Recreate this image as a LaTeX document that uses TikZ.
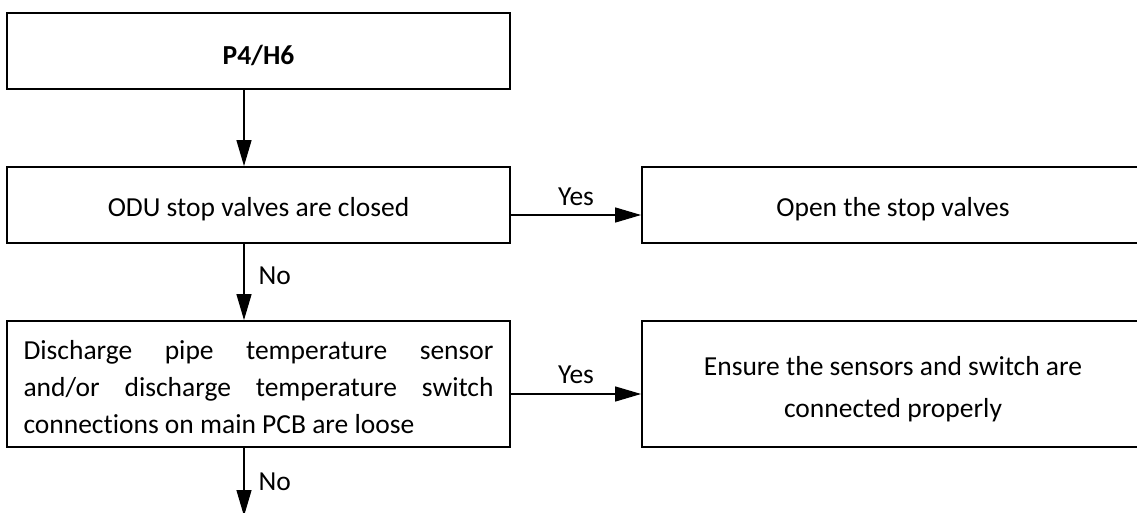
\documentclass[tikz,border=0pt]{standalone}
\usepackage{fontspec}
\setmainfont{Carlito}[Ligatures=NoCommon]
\usetikzlibrary{arrows.meta}
\newcommand{\lowered}[1]{\raisebox{-4pt}[\height][\depth]{#1}}
\begin{document}
\begin{tikzpicture}[x=1pt,y=-1pt,
  box/.style={draw=black,line width=1.8pt,rectangle,inner sep=0pt,minimum width=503pt,font=\fontsize{27.5}{38}\selectfont},
  rbox/.style={box,minimum width=502pt},
  arr/.style={line width=1.3pt,-{Triangle[length=26pt,width=15pt]}},
  lbl/.style={font=\fontsize{27.5}{30}\selectfont,inner sep=0pt}]
\useasboundingbox (0,0) rectangle (1137,513);
\clip (0,0) rectangle (1137,513);
\coordinate (colx) at (244,0);
\node[box,minimum height=76pt] (b1) at (258.5,51) {\lowered{\textbf{P4/H6}}};
\node[box,minimum height=76pt] (b2) at (258.5,205) {\lowered{ODU stop valves are closed}};
\node[box,minimum height=126pt] (b4) at (258.5,384) {\parbox{470pt}{\fontsize{27.5}{37}\selectfont\vspace*{6pt}
  \makebox[470pt][s]{Discharge pipe temperature sensor}\\
  \makebox[470pt][s]{and/or discharge temperature switch}\\
  connections on main PCB are loose}};
\node[rbox,minimum height=126pt] (b5) at (893,384) {\parbox{470pt}{\centering\fontsize{27.5}{42}\selectfont\vspace*{10pt}
  Ensure the sensors and switch are\\ connected properly}};
\node[rbox,minimum height=76pt] (b3) at (893,205) {\lowered{Open the stop valves}};
\coordinate (end) at (244,516);
\draw[arr] (b1.south -| colx) -- (b2.north -| colx);
\draw[arr] (b2.south -| colx) -- node[lbl,right=14pt,pos=0.42] (no1) {No} (b4.north -| colx);
\draw[arr] (b4.south -| colx) -- node[lbl,right=14pt,pos=0.5] (no2) {No} (end);
\draw[arr] ([yshift=-10pt]b2.east) -- node[lbl,above=9pt] (y1) {Yes} ([yshift=-10pt]b3.west);
\draw[arr] ([yshift=-10pt]b4.east) -- node[lbl,above=10pt] (y2) {Yes} ([yshift=-10pt]b5.west);
\end{tikzpicture}
\end{document}
